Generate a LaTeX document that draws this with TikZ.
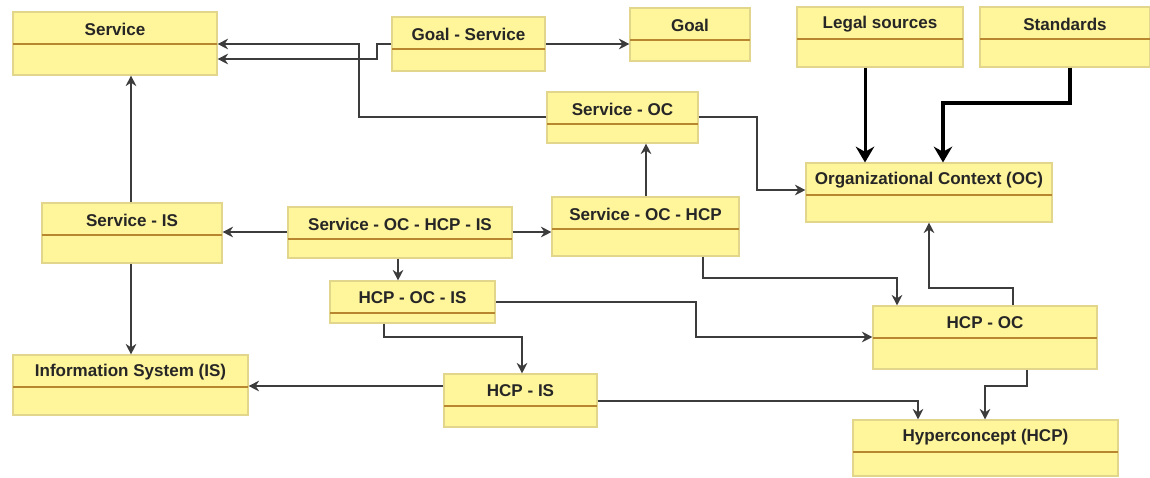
\documentclass[tikz,border=0pt]{standalone}
\usepackage{fontspec}
\setmainfont{Liberation Sans}
\usetikzlibrary{arrows.meta,fit,calc}

\definecolor{clsfill}{HTML}{FFF59B}
\definecolor{clsedge}{HTML}{E2D68C}
\definecolor{clsline}{HTML}{B8862E}
\definecolor{wire}{HTML}{3C3C3C}

\tikzset{
  cls/.style={fill=clsfill, draw=clsedge, line width=0.6pt, inner sep=0pt},
  clstitle/.style={font=\fontsize{9.7}{11}\selectfont\bfseries, text=black!85, inner sep=0pt},
  clsdiv/.style={draw=clsline, line width=0.9pt},
  arr/.style={draw=wire, line width=0.75pt, -{Stealth[length=6pt,width=6pt]}},
  thickarr/.style={draw=black, line width=1.7pt, -{Stealth[length=9pt,width=10.5pt]}},
  thickerarr/.style={draw=black, line width=2.8pt, -{Stealth[length=9pt,width=10.5pt]}}
}

% name, x1, y1, x2, y2, title   (pixel coordinates, y downwards)
\newcommand{\umlclass}[6]{%
  \node[cls, fit={(#2,#3) (#4,#5)}] (#1) {};
  \node[clstitle] (#1-t) at ($(#1.north)+(0,17.5)$) {#6};
  \draw[clsdiv] (#2,{#3+32}) -- (#4,{#3+32});
}

\begin{document}
\begin{tikzpicture}[x=0.02cm, y=-0.02cm]
  \useasboundingbox (0,0) rectangle (1150,477);

  % classes
  \umlclass{svc}{13}{12}{217}{75}{Service}
  \umlclass{gs}{392}{17}{545}{71}{Goal - Service}
  \umlclass{goal}{630}{8}{750}{61}{Goal}
  \umlclass{legal}{797}{7}{963}{67}{Legal sources}
  \umlclass{std}{980}{7}{1150}{67}{Standards}
  \umlclass{svcoc}{547}{92}{698}{143}{Service - OC}
  \umlclass{oc}{806}{163}{1052}{222}{Organizational Context (OC)}
  \umlclass{svcis}{42}{203}{222}{263}{Service - IS}
  \umlclass{sohi}{288}{207}{512}{258}{Service - OC - HCP - IS}
  \umlclass{soh}{552}{197}{739}{256}{Service - OC - HCP}
  \umlclass{hoi}{330}{281}{495}{323}{HCP - OC - IS}
  \umlclass{is}{13}{355}{248}{415}{Information System (IS)}
  \umlclass{hcpis}{444}{374}{597}{427}{HCP - IS}
  \umlclass{hcpoc}{873}{306}{1097}{369}{HCP - OC}
  \umlclass{hcp}{853}{420}{1118}{476}{Hyperconcept (HCP)}

  % connectors
  \draw[arr] (svcoc.west |- 0,117) -| (359,44) -- (svc.east |- 0,44);
  \draw[arr] (gs.west |- 0,44) -- (377,44) |- (svc.east |- 0,59);
  \draw[arr] (gs.east |- 0,44) -- (goal.west |- 0,44);
  \draw[arr] (svcoc.east |- 0,117) -| (757,190) -- (oc.west |- 0,190);
  \draw[thickarr] (legal.south -| 865,0) -- (oc.north -| 865,0);
  \draw[thickerarr] (std.south -| 1070,0) |- (943,103) -- (oc.north -| 943,0);
  \draw[arr] (soh.north -| 646,0) -- (svcoc.south -| 646,0);
  \draw[arr] (sohi.west |- 0,232) -- (svcis.east |- 0,232);
  \draw[arr] (sohi.east |- 0,232) -- (soh.west |- 0,232);
  \draw[arr] (sohi.south -| 398,0) -- (hoi.north -| 398,0);
  \draw[arr] (svcis.north -| 131,0) -- (svc.south -| 131,0);
  \draw[arr] (svcis.south -| 131,0) -- (is.north -| 131,0);
  \draw[arr] (hoi.south -| 384,0) |- (522,337) -- (hcpis.north -| 522,0);
  \draw[arr] (hoi.east |- 0,302) -| (696,337) -- (hcpoc.west |- 0,337);
  \draw[arr] (soh.south -| 703,0) |- (897,278) -- (hcpoc.north -| 897,0);
  \draw[arr] (hcpoc.north -| 1013,0) |- (929,288) -- (oc.south -| 929,0);
  \draw[arr] (hcpis.west |- 0,386) -- (is.east |- 0,386);
  \draw[arr] (hcpis.east |- 0,401) -| (hcp.north -| 918,0);
  \draw[arr] (hcpoc.south -| 1027,0) |- (985,386) -- (hcp.north -| 985,0);
\end{tikzpicture}
\end{document}
